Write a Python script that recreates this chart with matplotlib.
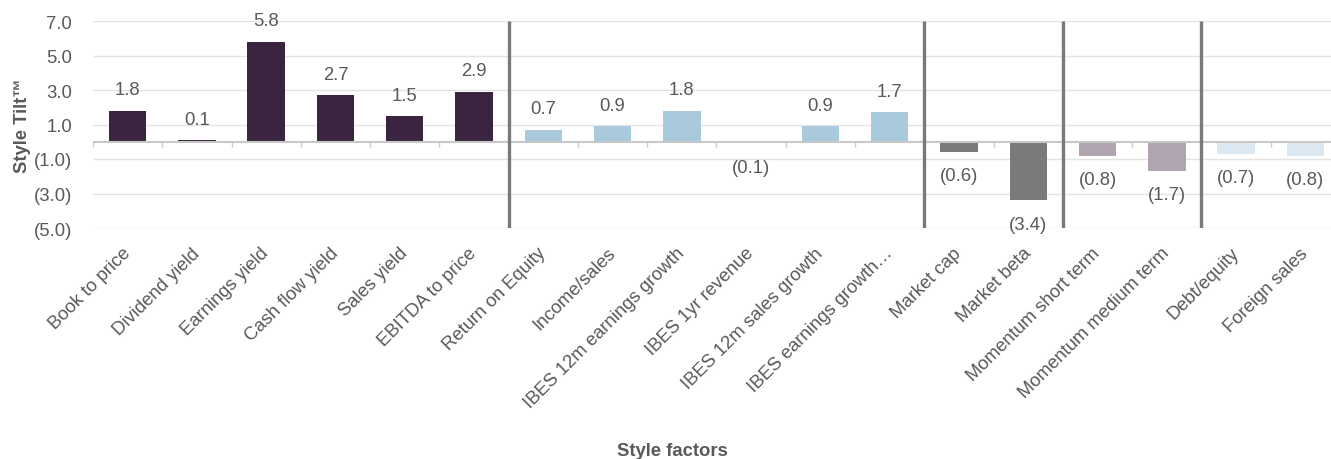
import numpy as np
import matplotlib
matplotlib.use("Agg")
import matplotlib.pyplot as plt

plt.rcParams["font.family"] = ["Liberation Sans", "DejaVu Sans"]

factors = [
    "Book to price", "Dividend yield", "Earnings yield", "Cash flow yield",
    "Sales yield", "EBITDA to price", "Return on Equity", "Income/sales",
    "IBES 12m earnings growth", "IBES 1yr revenue", "IBES 12m sales growth",
    "IBES earnings growth…", "Market cap", "Market beta",
    "Momentum short term", "Momentum medium term", "Debt/equity", "Foreign sales",
]
tilt = [1.8, 0.1, 5.8, 2.7, 1.5, 2.9, 0.7, 0.9, 1.8, -0.1, 0.9, 1.7,
        -0.6, -3.4, -0.8, -1.7, -0.7, -0.8]
# factor groups: value, quality/growth, size/risk, momentum, leverage
group_sizes = [6, 6, 2, 2, 2]
group_colors = ["#3b2440", "#a9c9dc", "#7a7a7a", "#b1a5b2", "#dce8f1"]

colors = []
for n, c in zip(group_sizes, group_colors):
    colors += [c] * n

grey = "#595959"
fs = 13.3

fig = plt.figure(figsize=(13.31, 4.6), dpi=100)
ax = fig.add_axes([93 / 1331, 1 - 229 / 460, 1247 / 1331, 207 / 460])

x = np.arange(len(factors))
ax.set_xlim(-0.5, len(factors) - 0.5)
ax.set_ylim(-5, 7)

yt = [7, 5, 3, 1, -1, -3, -5]
ax.set_yticks(yt)
ax.set_yticklabels([f"{v:.1f}" if v >= 0 else f"({-v:.1f})" for v in yt],
                   color=grey, fontsize=fs)
ax.grid(axis="y", color="#e3e3e3", linewidth=1, zorder=0)
ax.set_axisbelow(True)
for s in ax.spines.values():
    s.set_visible(False)
ax.tick_params(axis="both", length=0)
ax.tick_params(axis="y", pad=15)

ax.bar(x, tilt, width=0.54, color=colors, zorder=2)

# zero line with small ticks between categories
ax.axhline(0, color="#c8c8c8", linewidth=1.5, zorder=3)
ax.vlines(np.arange(len(factors) + 1) - 0.5, -0.3, 0, color="#c8c8c8",
          linewidth=1, zorder=3)

# group separators
bounds = np.cumsum(group_sizes)[:-1] - 0.5
ax.vlines(bounds, -5, 7, color="#7a7a7a", linewidth=2.4, zorder=4)

for xi, v in zip(x, tilt):
    txt = f"{v:.1f}" if v >= 0 else f"({-v:.1f})"
    off = 15 if v >= 0 else -17
    ax.annotate(txt, (xi, v), xytext=(0, off), textcoords="offset points",
                ha="center", va="center", color=grey, fontsize=fs)

ax.set_xticks(x)
ax.set_xticklabels(factors, rotation=45, ha="right", va="center",
                   rotation_mode="anchor", color=grey, fontsize=fs)
ax.tick_params(axis="x", pad=16)

ax.set_ylabel("Style Tilt™", color=grey, fontsize=fs, fontweight="bold",
              labelpad=2)
fig.text(672 / 1331, 1 - 452 / 460, "Style factors", ha="center", va="center",
         color=grey, fontsize=fs, fontweight="bold")

fig.savefig("out.png", dpi=100)
